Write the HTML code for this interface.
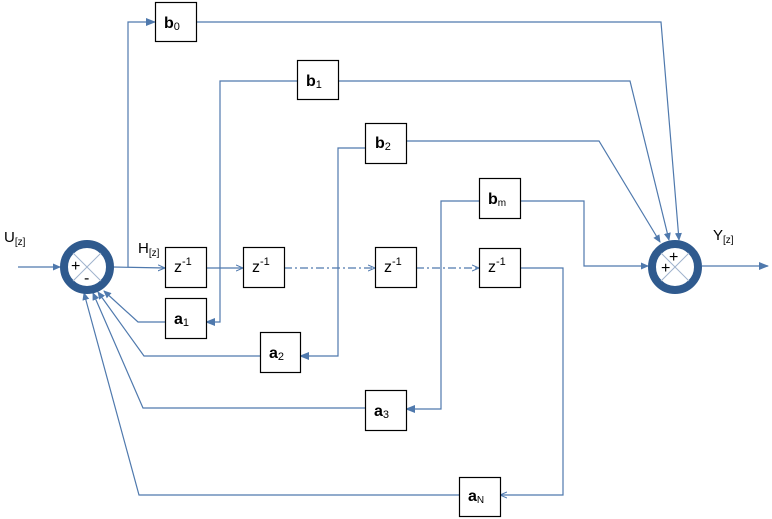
<!DOCTYPE html>
<html><head><meta charset="utf-8"><style>
html,body{margin:0;padding:0;background:#fff;}
svg{display:block;}
text{font-family:"Liberation Sans",Arial,sans-serif;fill:#000;}
</style></head><body>
<svg width="772" height="519" viewBox="0 0 772 519" xmlns="http://www.w3.org/2000/svg">
<defs>
<marker id="a" markerWidth="8" markerHeight="8" refX="7" refY="4" orient="auto" markerUnits="userSpaceOnUse">
<path d="M0,0.5 L8,4 L0,7.5 Z" fill="#4f79ad"/>
</marker>
<marker id="o" markerWidth="10" markerHeight="8" refX="9" refY="4" orient="auto" markerUnits="userSpaceOnUse">
<path d="M0,0 L10,4 L0,8 Z" fill="#4f79ad"/>
</marker>
<marker id="s" markerWidth="8" markerHeight="8" refX="7" refY="4" orient="auto" markerUnits="userSpaceOnUse">
<path d="M0,1 L7,4 L0,7" fill="none" stroke="#4f79ad" stroke-width="1"/>
</marker>
</defs>
<g stroke="#4f79ad" stroke-width="1.2" fill="none">
<line x1="18" y1="267" x2="60" y2="267" marker-end="url(#a)"/>
<line x1="113" y1="267" x2="165" y2="268" marker-end="url(#s)"/>
<polyline points="128,267 128,22 155,22" marker-end="url(#o)"/>
<polyline points="196,22 661,22 679,240" marker-end="url(#a)"/>
<line x1="206" y1="268" x2="243" y2="268" marker-end="url(#s)"/>
<polyline points="297,81 220,81 220,322 206,322" marker-end="url(#o)"/>
<polyline points="338,81 630,81 669,240" marker-end="url(#a)"/>
<line x1="284" y1="268" x2="375" y2="268" stroke-dasharray="8,3,2,3" marker-end="url(#s)"/>
<polyline points="365,148 338,148 338,356 300,356" marker-end="url(#o)"/>
<polyline points="406,141 599,141 660,242" marker-end="url(#a)"/>
<line x1="416" y1="268" x2="479" y2="268" stroke-dasharray="8,3,2,3" marker-end="url(#s)"/>
<polyline points="479,201 441,201 441,409 406,409" marker-end="url(#o)"/>
<polyline points="520,201 584,201 584,266 648,266" marker-end="url(#a)"/>
<polyline points="520,268 563,268 563,495 500,495" marker-end="url(#s)"/>
<polyline points="165,322 138,322 104,291" marker-end="url(#a)"/>
<polyline points="260,356 144,356 98,292" marker-end="url(#a)"/>
<polyline points="365,408 143,408 93,293" marker-end="url(#a)"/>
<polyline points="459,495 139,495 84,293" marker-end="url(#a)"/>
<line x1="702" y1="266" x2="768" y2="266" marker-end="url(#o)"/>
</g>
<g>
<circle cx="87" cy="267" r="23" fill="#fff" stroke="#2f5a8e" stroke-width="8"/>
<line x1="73" y1="253" x2="101" y2="281" stroke="#9fb3cc" stroke-width="1"/>
<line x1="101" y1="253" x2="73" y2="281" stroke="#9fb3cc" stroke-width="1"/>
<text x="71" y="271" font-size="16">+</text>
<text x="84" y="283" font-size="16">-</text>
<circle cx="675" cy="267" r="23" fill="#fff" stroke="#2f5a8e" stroke-width="8"/>
<line x1="661" y1="253" x2="689" y2="281" stroke="#9fb3cc" stroke-width="1"/>
<line x1="689" y1="253" x2="661" y2="281" stroke="#9fb3cc" stroke-width="1"/>
<text x="669" y="262" font-size="16">+</text>
<text x="661" y="273" font-size="16">+</text>
</g>
<g fill="#fff" stroke="#000" stroke-width="1.2">
<rect x="155.5" y="2.5" width="41" height="39"/>
<rect x="297.5" y="60.5" width="41" height="39"/>
<rect x="365.5" y="123.5" width="41" height="40"/>
<rect x="479.5" y="178.5" width="41" height="40"/>
<rect x="165.5" y="247.5" width="41" height="40"/>
<rect x="243.5" y="247.5" width="41" height="40"/>
<rect x="375.5" y="247.5" width="41" height="40"/>
<rect x="479.5" y="248.5" width="41" height="39"/>
<rect x="165.5" y="298.5" width="41" height="40"/>
<rect x="260.5" y="332.5" width="40" height="40"/>
<rect x="365.5" y="390.5" width="41" height="40"/>
<rect x="459.5" y="477.5" width="41" height="39"/>
</g>
<g font-size="16">
<text x="164" y="28" font-weight="bold">b<tspan font-size="11" dy="2" font-weight="normal">0</tspan></text>
<text x="306" y="86" font-weight="bold">b<tspan font-size="11" dy="2" font-weight="normal">1</tspan></text>
<text x="375" y="148" font-weight="bold">b<tspan font-size="11" dy="2" font-weight="normal">2</tspan></text>
<text x="488" y="204" font-weight="bold">b<tspan font-size="10" dy="2" font-weight="normal">m</tspan></text>
<text x="174" y="272">z<tspan font-size="11" dy="-7">-1</tspan></text>
<text x="252" y="272">z<tspan font-size="11" dy="-7">-1</tspan></text>
<text x="384" y="272">z<tspan font-size="11" dy="-7">-1</tspan></text>
<text x="488" y="272">z<tspan font-size="11" dy="-7">-1</tspan></text>
<text x="174" y="324" font-weight="bold">a<tspan font-size="11" dy="2" font-weight="normal">1</tspan></text>
<text x="269" y="358" font-weight="bold">a<tspan font-size="11" dy="2" font-weight="normal">2</tspan></text>
<text x="374" y="416" font-weight="bold">a<tspan font-size="11" dy="2" font-weight="normal">3</tspan></text>
<text x="468" y="501" font-weight="bold">a<tspan font-size="10" dy="2" font-weight="normal">N</tspan></text>
<text x="4" y="242" font-size="15">U<tspan font-size="10" dy="3">[z]</tspan></text>
<text x="138" y="253" font-size="15">H<tspan font-size="10" dy="3">[z]</tspan></text>
<text x="713" y="240" font-size="15">Y<tspan font-size="10" dy="3">[z]</tspan></text>
</g>
</svg>
</body></html>
